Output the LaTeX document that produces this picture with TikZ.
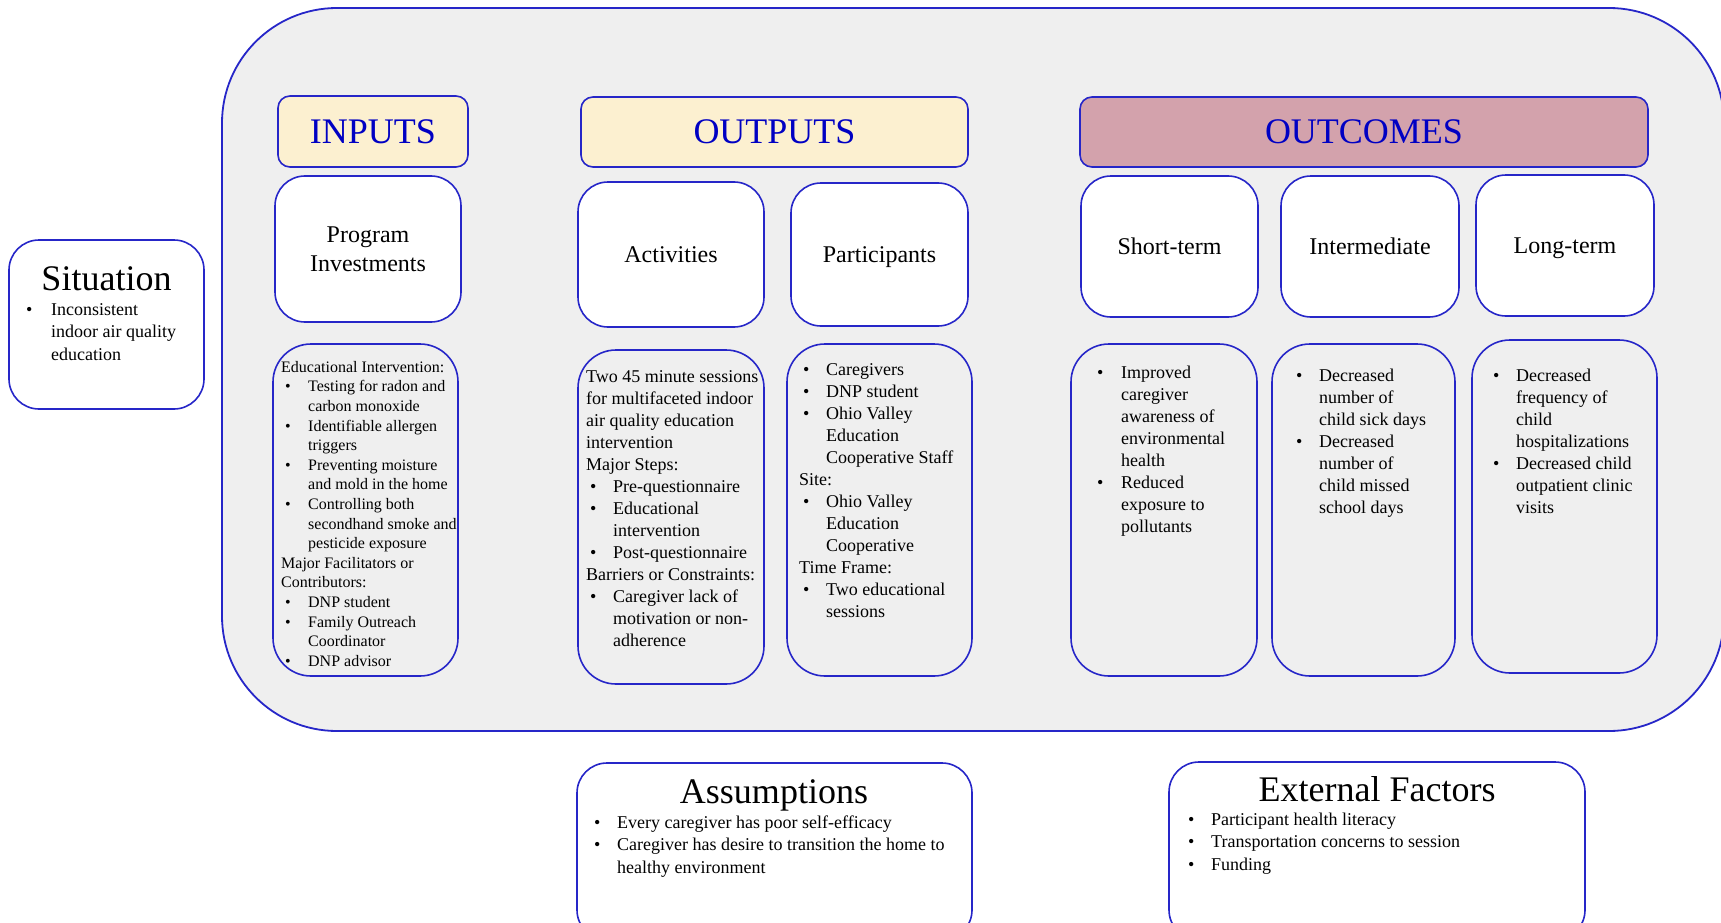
\documentclass[tikz,border=0pt]{standalone}
\usepackage{fontspec}
\setmainfont{Liberation Serif}
\usetikzlibrary{fit}
\definecolor{bordblue}{RGB}{38,38,200}
\definecolor{titleblue}{RGB}{0,0,195}
\definecolor{bggray}{RGB}{239,239,239}
\definecolor{cream}{RGB}{252,240,208}
\definecolor{rose}{RGB}{211,162,172}
\newlength\bpre \newlength\bgap
\newcommand\bi[1]{\hspace*{\bpre}\makebox[\bgap][l]{\textbullet}#1}
\newcommand\ci[1]{\hspace*{\dimexpr\bpre+\bgap\relax}#1}
\newcommand\fl{\rule{0pt}{14pt}}
\newcommand\fs{\rule{0pt}{12.5pt}}
\tikzset{
  frame/.style={draw=bordblue, line width=1.8pt, fill=bggray, rounded corners=115pt, inner sep=0pt},
  sz/.style 2 args={minimum width=#1pt, minimum height=#2pt},
  hdr/.style={draw=bordblue, line width=1.6pt, rounded corners=12pt, inner sep=0pt, text=titleblue, font=\fontsize{36}{40}\selectfont},
  wbox/.style={draw=bordblue, line width=1.6pt, fill=white, rounded corners=30pt, inner sep=0pt, align=center, text depth=0pt, font=\fontsize{24}{28.5}\selectfont},
  dbox/.style={draw=bordblue, line width=1.6pt, rounded corners=38pt, inner sep=0pt},
  obox/.style={draw=bordblue, line width=1.6pt, fill=white, rounded corners=30pt, inner sep=0pt},
  bigtitle/.style={anchor=base, inner sep=0pt, font=\fontsize{36}{40}\selectfont},
  bt/.style n args={4}{anchor=north west, inner sep=0pt, align=left, font=\fontsize{#1}{#2}\selectfont\setlength\bpre{#3}\setlength\bgap{#4}},
}
\begin{document}
\begin{tikzpicture}[x=1pt,y=-1pt]
\clip (0,0) rectangle (1721,923);
\useasboundingbox (0,0) rectangle (1721,923);

% main frame
\node[frame, fit={(222,8) (1724,731)}] (frame) {};

% situation
\node[obox, fit={(9,240) (204,409)}] (sit) {};
\node[bigtitle] (sitT) at (106.5,290) {Situation};
\node[bt={18}{22.5}{0pt}{25pt}] (sitB) at (26,301) {\fl\bi{Inconsistent}\\\ci{indoor air quality}\\\ci{education}};

% headers
\node[hdr, fill=cream, sz={190}{71}] (inputs) at (373,131.5) {INPUTS};
\node[hdr, fill=cream, sz={387}{70}] (outputs) at (774.5,132) {OUTPUTS};
\node[hdr, fill=rose, sz={568}{70}] (outcomes) at (1364,132) {OUTCOMES};

% white boxes
\node[wbox, sz={186}{146}] (pi) at (368,249) {Program\\Investments};
\node[wbox, sz={186}{145}] (act) at (671,254.5) {Activities};
\node[wbox, sz={177}{143}] (part) at (879.5,254.5) {Participants};
\node[wbox, sz={177}{141}] (short) at (1169.5,246.5) {Short-term};
\node[wbox, sz={178}{141}] (inter) at (1370,246.5) {Intermediate};
\node[wbox, sz={178}{141}] (long) at (1565,245.5) {Long-term};

% detail boxes
\node[dbox, fit={(273,344) (458,676)}] (pid) {};
\node[dbox, fit={(578,350) (764,684)}] (actd) {};
\node[dbox, fit={(787,344) (972,676)}] (partd) {};
\node[dbox, fit={(1071,344) (1257,676)}] (shortd) {};
\node[dbox, fit={(1272,344) (1455,676)}] (interd) {};
\node[dbox, fit={(1472,340) (1657,673)}] (longd) {};

\node[bt={16}{19.6}{4pt}{23pt}] (pidT) at (281,359.5) {\fs Educational Intervention:\\\bi{Testing for radon and}\\\ci{carbon monoxide}\\\bi{Identifiable allergen}\\\ci{triggers}\\\bi{Preventing moisture}\\\ci{and mold in the home}\\\bi{Controlling both}\\\ci{secondhand smoke and}\\\ci{pesticide exposure}\\Major Facilitators or\\Contributors:\\\bi{DNP student}\\\bi{Family Outreach}\\\ci{Coordinator}\\\bi{DNP advisor}};

\node[bt={18}{22}{4pt}{23pt}] (actdT) at (586,368) {\fl Two 45 minute sessions\\for multifaceted indoor\\air quality education\\intervention\\Major Steps:\\\bi{Pre-questionnaire}\\\bi{Educational}\\\ci{intervention}\\\bi{Post-questionnaire}\\Barriers or Constraints:\\\bi{Caregiver lack of}\\\ci{motivation or non-}\\\ci{adherence}};

\node[bt={18}{22}{4pt}{23pt}] (partdT) at (799,361) {\fl\bi{Caregivers}\\\bi{DNP student}\\\bi{Ohio Valley}\\\ci{Education}\\\ci{Cooperative Staff}\\Site:\\\bi{Ohio Valley}\\\ci{Education}\\\ci{Cooperative}\\Time Frame:\\\bi{Two educational}\\\ci{sessions}};

\node[bt={18}{22}{0pt}{24pt}] (shortdT) at (1097,364) {\fl\bi{Improved}\\\ci{caregiver}\\\ci{awareness of}\\\ci{environmental}\\\ci{health}\\\bi{Reduced}\\\ci{exposure to}\\\ci{pollutants}};

\node[bt={18}{22}{0pt}{23pt}] (interdT) at (1296,367) {\fl\bi{Decreased}\\\ci{number of}\\\ci{child sick days}\\\bi{Decreased}\\\ci{number of}\\\ci{child missed}\\\ci{school days}};

\node[bt={18}{22}{0pt}{23pt}] (longdT) at (1493,367) {\fl\bi{Decreased}\\\ci{frequency of}\\\ci{child}\\\ci{hospitalizations}\\\bi{Decreased child}\\\ci{outpatient clinic}\\\ci{visits}};

% assumptions / external factors
\node[obox, fit={(577,763) (972,940)}] (assum) {};
\node[bigtitle] (assumT) at (774,803) {Assumptions};
\node[bt={18}{22.5}{0pt}{23pt}] (assumB) at (594,814) {\fl\bi{Every caregiver has poor self-efficacy}\\\bi{Caregiver has desire to transition the home to}\\\ci{healthy environment}};

\node[obox, fit={(1169,762) (1585,940)}] (ext) {};
\node[bigtitle] (extT) at (1377,801) {External Factors};
\node[bt={18}{22.5}{0pt}{23pt}] (extB) at (1188,811) {\fl\bi{Participant health literacy}\\\bi{Transportation concerns to session}\\\bi{Funding}};
\end{tikzpicture}
\end{document}
